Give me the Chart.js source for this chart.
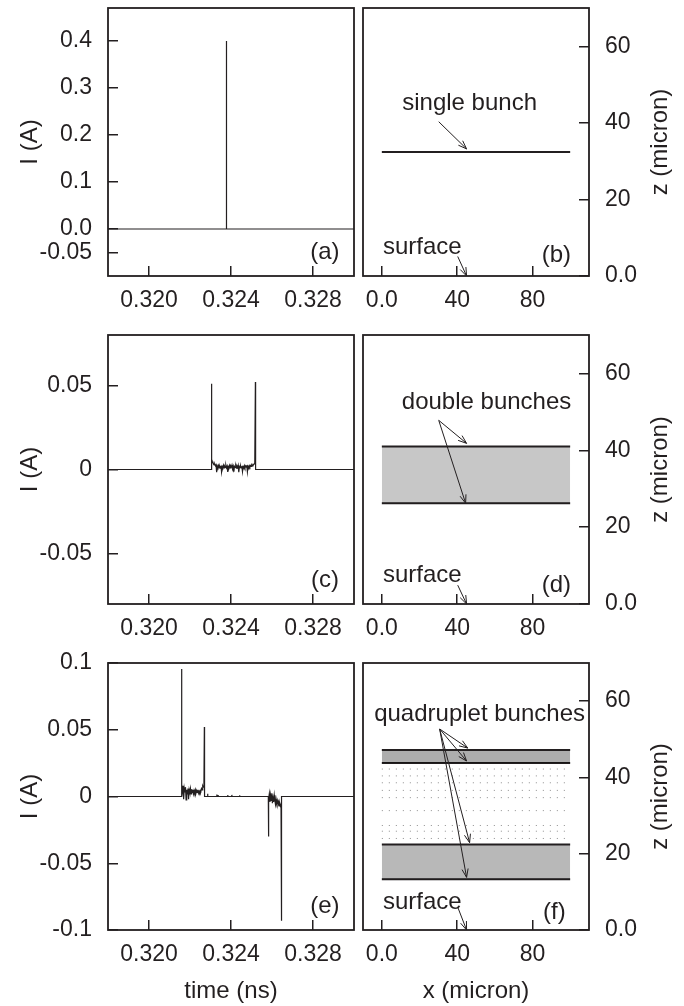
<!DOCTYPE html>
<html>
<head>
<meta charset="utf-8">
<script src="https://cdn.jsdelivr.net/npm/chart.js@4.4.1/dist/chart.umd.min.js"></script>
<style>
  html, body { margin: 0; padding: 0; background: #fff; }
  #fig { position: relative; width: 684px; height: 1006px; overflow: hidden; }
  #fig canvas { position: absolute; }
</style>
</head>
<body>
<div id="fig">
  <canvas id="pa" width="360" height="330" style="left:0;top:0"></canvas>
  <canvas id="pb" width="324" height="330" style="left:360px;top:0"></canvas>
  <canvas id="pc" width="360" height="325" style="left:0;top:330px"></canvas>
  <canvas id="pd" width="324" height="325" style="left:360px;top:330px"></canvas>
  <canvas id="pe" width="360" height="366" style="left:0;top:640px"></canvas>
  <canvas id="pf" width="324" height="366" style="left:360px;top:640px"></canvas>
</div>
<script>
// ---- tick values / labels ----
const timeTicks = [0.320, 0.324, 0.328];
const timeTickLabels = ["0.320", "0.324", "0.328"];
const xTicks = [0, 40, 80];
const xTickLabels = ["0.0", "40", "80"];
const zTicks = [0, 20, 40, 60];
const zTickLabels = ["0.0", "20", "40", "60"];
const iTicksA = [-0.05, 0, 0.1, 0.2, 0.3, 0.4];
const iTickLabelsA = ["-0.05", "0.0", "0.1", "0.2", "0.3", "0.4"];
const iTicksC = [-0.05, 0, 0.05];
const iTickLabelsC = ["-0.05", "0", "0.05"];
const iTicksE = [-0.1, -0.05, 0, 0.05, 0.1];
const iTickLabelsE = ["-0.1", "-0.05", "0", "0.05", "0.1"];

// ---- current traces: [time (ns), I (A)] ----
const currentA = [
  [0.31800, 0], [0.32378, 0], [0.32378, 0.400], [0.32378, 0], [0.33000, 0]
];
const currentC = [
  [0.31800, 0], [0.32304, 0], [0.32305, 0.051], [0.32306, 0.006],
  [0.32309, 0.0048], [0.32312, 0.0040], [0.32315, 0.0034], [0.32318, 0.0028],
  [0.32321, 0.0032], [0.32324, 0.0022], [0.32327, 0.0027], [0.32330, -0.0016],
  [0.32333, 0.0021], [0.32336, 0.0012], [0.32339, 0.0024], [0.32342, 0.0010],
  [0.32345, 0.0019], [0.32348, 0.0008], [0.32351, 0.0023], [0.32354, -0.0014],
  [0.32357, 0.0018], [0.32360, 0.0011], [0.32363, 0.0025], [0.32366, 0.0009],
  [0.32369, 0.0020], [0.32372, 0.0013], [0.32375, 0.0026], [0.32378, 0.0010],
  [0.32381, 0.0019], [0.32384, -0.0015], [0.32387, 0.0017], [0.32390, 0.0011],
  [0.32393, 0.0024], [0.32396, 0.0009], [0.32399, 0.0021], [0.32402, 0.0014],
  [0.32405, 0.0027], [0.32408, 0.0010], [0.32411, 0.0020], [0.32414, -0.0013],
  [0.32417, 0.0018], [0.32420, 0.0012], [0.32423, 0.0023], [0.32426, 0.0008],
  [0.32429, 0.0021], [0.32432, 0.0012], [0.32435, 0.0025], [0.32438, -0.0016],
  [0.32441, 0.0017], [0.32444, 0.0011], [0.32447, 0.0022], [0.32450, 0.0010],
  [0.32453, 0.0020], [0.32456, -0.0012], [0.32459, 0.0018], [0.32462, 0.0013],
  [0.32465, 0.0024], [0.32468, 0.0011], [0.32471, 0.0021], [0.32474, 0.0014],
  [0.32477, 0.0026], [0.32480, -0.0014], [0.32483, 0.0019], [0.32486, 0.0012],
  [0.32489, 0.0023], [0.32492, 0.0015], [0.32495, 0.0024], [0.32498, 0.0018],
  [0.32501, 0.0027], [0.32504, 0.0021], [0.32507, 0.0030], [0.32510, 0.0028],
  [0.32513, 0.0034], [0.32516, 0.0038], [0.32519, 0.052], [0.32520, 0],
  [0.33000, 0]
];
const currentE = [
  [0.31800, 0], [0.32158, 0], [0.32159, 0.0955], [0.32160, 0.009],
  [0.32163, 0.004], [0.32166, 0.008], [0.32169, -0.002], [0.32172, 0.006],
  [0.32175, 0.003], [0.32178, 0.007], [0.32181, -0.0025], [0.32184, 0.005],
  [0.32187, 0.002], [0.32190, 0.006], [0.32193, -0.002], [0.32196, 0.005],
  [0.32199, 0.003], [0.32202, 0.006], [0.32205, 0.002], [0.32208, 0.0055],
  [0.32211, 0.003], [0.32214, 0.005], [0.32217, 0.002], [0.32220, 0.0045],
  [0.32223, 0.003], [0.32226, 0.005], [0.32229, 0.0025], [0.32232, 0.0045],
  [0.32235, 0.003], [0.32238, 0.005], [0.32241, 0.0025], [0.32244, 0.004],
  [0.32247, 0.003], [0.32250, 0.0045], [0.32253, 0.004], [0.32256, 0.006],
  [0.32259, 0.005], [0.32262, 0.008], [0.32265, 0.007], [0.32268, 0.010],
  [0.32270, 0.052], [0.32271, 0],
  [0.32286, 0], [0.32286, 0.002], [0.32287, 0],
  [0.32331, 0], [0.32331, 0.0015], [0.32332, 0],
  [0.32337, 0], [0.32337, 0.0012], [0.32338, 0],
  [0.32384, 0], [0.32384, 0.0012], [0.32385, 0],
  [0.32404, 0], [0.32404, 0.0012], [0.32405, 0],
  [0.32442, 0], [0.32442, 0.0010], [0.32443, 0],
  [0.32582, 0], [0.32583, -0.030], [0.32584, -0.002], [0.32587, 0.002],
  [0.32590, -0.004], [0.32593, 0.001], [0.32596, -0.003], [0.32599, 0.0025],
  [0.32602, -0.005], [0.32605, -0.001], [0.32608, -0.004], [0.32611, 0.001],
  [0.32614, -0.003], [0.32617, -0.006], [0.32620, -0.002], [0.32623, -0.005],
  [0.32626, -0.003], [0.32629, -0.006], [0.32632, -0.004], [0.32635, -0.007],
  [0.32638, -0.005], [0.32641, -0.007], [0.32644, -0.006], [0.32646, -0.093],
  [0.32647, 0], [0.33000, 0]
];

// ---- electron positions (micron) ----
const bunchXSpan = [0, 100];
const singleBunchZ = 32.4;
const doubleBandZ = [26.2, 41.0];
const quadUpperZ = [43.8, 47.2];
const quadLowerZ = [13.3, 22.4];
const quadSparseZ = [42.2, 40.4, 38.6, 36.6, 34.7, 31.3, 27.4, 25.9, 24.0];

const INK = "#231f20";
const FAMILY = "'Liberation Sans', Arial, Helvetica, sans-serif";
const TICK_FONT = { family: FAMILY, size: 23 };
const TITLE_FONT = { family: FAMILY, size: 24 };

function toXY(pairs) {
    return pairs.map(function (p) { return { x: p[0], y: p[1] }; });
}
function hLine(z) {
    return bunchXSpan.map(function (x) { return { x: x, y: z }; });
}
function zeroPad(s) {
    s.paddingTop = 0; s.paddingBottom = 0; s.paddingLeft = 0; s.paddingRight = 0;
}

function axis(values, labels, min, max, position, size, pad, title) {
    const horizontal = position === "bottom";
    return {
        type: "linear",
        position: position,
        min: min,
        max: max,
        bounds: "data",
        afterBuildTicks: function (s) {
            s.ticks = values.map(function (v) { return { value: v }; });
        },
        afterFit: function (s) {
            if (horizontal) s.height = size; else s.width = size;
            zeroPad(s);
        },
        ticks: {
            font: TICK_FONT,
            color: INK,
            padding: pad,
            autoSkip: false,
            maxRotation: 0,
            callback: function (v, i) { return labels[i]; },
        },
        grid: {
            drawOnChartArea: false,
            drawTicks: true,
            tickLength: -10,
            color: INK,
            lineWidth: 1.5,
        },
        border: { display: false },
        title: title
            ? { display: true, text: title, font: TITLE_FONT, color: INK, padding: horizontal ? { top: 0, bottom: 0 } : { top: 16, bottom: 0 } }
            : { display: false },
    };
}

/* frame round the plot area */
const framePlugin = {
    id: "frame",
    afterDraw: function (chart) {
        const a = chart.chartArea;
        const ctx = chart.ctx;
        ctx.save();
        ctx.strokeStyle = INK;
        ctx.lineWidth = 1.8;
        ctx.strokeRect(a.left, a.top, a.right - a.left, a.bottom - a.top);
        ctx.restore();
    },
};

/* labels, arrows and the right-hand axis title */
const notesPlugin = {
    id: "notes",
    afterDraw: function (chart, args, opts) {
        const ctx = chart.ctx;
        const sx = chart.scales.x;
        const sy = chart.scales.y;
        ctx.save();
        ctx.fillStyle = INK;
        ctx.strokeStyle = INK;
        ctx.font = TITLE_FONT.size + "px " + FAMILY;
        ctx.textAlign = "center";
        ctx.textBaseline = "middle";
        (opts.texts || []).forEach(function (t) {
            ctx.fillText(t.text, sx.getPixelForValue(t.x), sy.getPixelForValue(t.y));
        });
        ctx.lineWidth = 1;
        (opts.arrows || []).forEach(function (a) {
            const x1 = sx.getPixelForValue(a.from[0]), y1 = sy.getPixelForValue(a.from[1]);
            const x2 = sx.getPixelForValue(a.to[0]), y2 = sy.getPixelForValue(a.to[1]);
            const ang = Math.atan2(y2 - y1, x2 - x1);
            ctx.beginPath();
            ctx.moveTo(x1, y1);
            ctx.lineTo(x2, y2);
            ctx.moveTo(x2 - 9 * Math.cos(ang - 0.35), y2 - 9 * Math.sin(ang - 0.35));
            ctx.lineTo(x2, y2);
            ctx.lineTo(x2 - 9 * Math.cos(ang + 0.35), y2 - 9 * Math.sin(ang + 0.35));
            ctx.stroke();
        });
        if (opts.sideTitle) {
            const ca = chart.chartArea;
            ctx.translate(chart.width - 24, (ca.top + ca.bottom) / 2);
            ctx.rotate(-Math.PI / 2);
            ctx.fillText(opts.sideTitle, 0, 0);
        }
        ctx.restore();
    },
};

function traceDataset(pairs) {
    return {
        data: toXY(pairs),
        borderColor: INK,
        borderWidth: 1.2,
        pointRadius: 0,
        tension: 0,
        fill: false,
    };
}
function edgeDataset(z, fillTo, shade) {
    return {
        data: hLine(z),
        borderColor: INK,
        borderWidth: 2,
        pointRadius: 0,
        fill: fillTo ? fillTo : false,
        backgroundColor: shade || "transparent",
    };
}

function makeChart(id, datasets, scales, padding, notes) {
    return new Chart(document.getElementById(id).getContext("2d"), {
        type: "line",
        data: { datasets: datasets },
        options: {
            responsive: false,
            animation: false,
            devicePixelRatio: 1,
            parsing: false,
            layout: { padding: padding, autoPadding: false },
            plugins: {
                legend: { display: false },
                tooltip: { enabled: false },
                notes: notes,
            },
            scales: scales,
        },
        plugins: [framePlugin, notesPlugin],
    });
}

/* ============ (a) single bunch current ============ */
makeChart("pa", [traceDataset(currentA)], {
    x: axis(timeTicks, timeTickLabels, 0.318, 0.330, "bottom", 54, 21),
    y: axis(iTicksA, iTickLabelsA, -0.1, 0.47, "left", 108, 26, "I (A)"),
}, { top: 8, right: 6, left: 0, bottom: 0 }, {
    texts: [{ text: "(a)", x: 0.32858, y: -0.05 }],
});

/* ============ (b) single bunch position ============ */
makeChart("pb", [edgeDataset(singleBunchZ)], {
    x: axis(xTicks, xTickLabels, -10, 110, "bottom", 54, 21),
    y: axis(zTicks, zTickLabels, 0, 70, "right", 95, 26),
}, { top: 8, right: 0, left: 3, bottom: 0 }, {
    texts: [
        { text: "single bunch", x: 46.6, y: 45.0 },
        { text: "surface", x: 21.5, y: 7.6 },
        { text: "(b)", x: 92.7, y: 5.3 },
    ],
    arrows: [
        { from: [30.2, 40.3], to: [45, 33.2] },
        { from: [40.3, 5.1], to: [45, 0] },
    ],
    sideTitle: "z (micron)",
});

/* ============ (c) double bunch current ============ */
makeChart("pc", [traceDataset(currentC)], {
    x: axis(timeTicks, timeTickLabels, 0.318, 0.330, "bottom", 51, 21),
    y: axis(iTicksC, iTickLabelsC, -0.08, 0.08, "left", 108, 26, "I (A)"),
}, { top: 5, right: 6, left: 0, bottom: 0 }, {
    texts: [{ text: "(c)", x: 0.32858, y: -0.066 }],
});

/* ============ (d) double bunch position ============ */
makeChart("pd", [
    edgeDataset(doubleBandZ[1], "+1", "rgba(0,0,0,0.22)"),
    edgeDataset(doubleBandZ[0]),
], {
    x: axis(xTicks, xTickLabels, -10, 110, "bottom", 51, 21),
    y: axis(zTicks, zTickLabels, 0, 70, "right", 95, 26),
}, { top: 5, right: 0, left: 3, bottom: 0 }, {
    texts: [
        { text: "double bunches", x: 55.6, y: 52.5 },
        { text: "surface", x: 21.5, y: 7.5 },
        { text: "(d)", x: 92.7, y: 4.9 },
    ],
    arrows: [
        { from: [30.2, 47.8], to: [45, 41.8] },
        { from: [30.2, 47.8], to: [44.5, 26.2] },
        { from: [40.3, 4.9], to: [45, 0] },
    ],
    sideTitle: "z (micron)",
});

/* ============ (e) quadruplet current ============ */
makeChart("pe", [traceDataset(currentE)], {
    x: axis(timeTicks, timeTickLabels, 0.318, 0.330, "bottom", 76, 21, "time (ns)"),
    y: axis(iTicksE, iTickLabelsE, -0.1, 0.1, "left", 108, 26, "I (A)"),
}, { top: 23, right: 6, left: 0, bottom: 0 }, {
    texts: [{ text: "(e)", x: 0.32858, y: -0.082 }],
});

/* ============ (f) quadruplet position ============ */
const sparseSets = quadSparseZ.map(function (z) {
    return {
        data: hLine(z),
        borderColor: "rgba(0,0,0,0.45)",
        borderWidth: 1,
        borderDash: [1, 6],
        pointRadius: 0,
        fill: false,
    };
});
makeChart("pf", [
    edgeDataset(quadUpperZ[1], "+1", "rgba(0,0,0,0.32)"),
    edgeDataset(quadUpperZ[0]),
    edgeDataset(quadLowerZ[1], "+1", "rgba(0,0,0,0.28)"),
    edgeDataset(quadLowerZ[0]),
].concat(sparseSets), {
    x: axis(xTicks, xTickLabels, -10, 110, "bottom", 76, 21, "x (micron)"),
    y: axis(zTicks, zTickLabels, 0, 70, "right", 95, 26),
}, { top: 23, right: 0, left: 3, bottom: 0 }, {
    texts: [
        { text: "quadruplet bunches", x: 51.9, y: 56.6 },
        { text: "surface", x: 21.5, y: 7.3 },
        { text: "(f)", x: 91.6, y: 4.7 },
    ],
    arrows: [
        { from: [30.7, 52.7], to: [45.6, 47.7] },
        { from: [30.7, 52.7], to: [45, 44.3] },
        { from: [30.7, 52.7], to: [46.6, 22.9] },
        { from: [30.7, 52.7], to: [45, 13.8] },
        { from: [40.3, 6.0], to: [45, 0] },
    ],
    sideTitle: "z (micron)",
});
</script>
</body>
</html>
